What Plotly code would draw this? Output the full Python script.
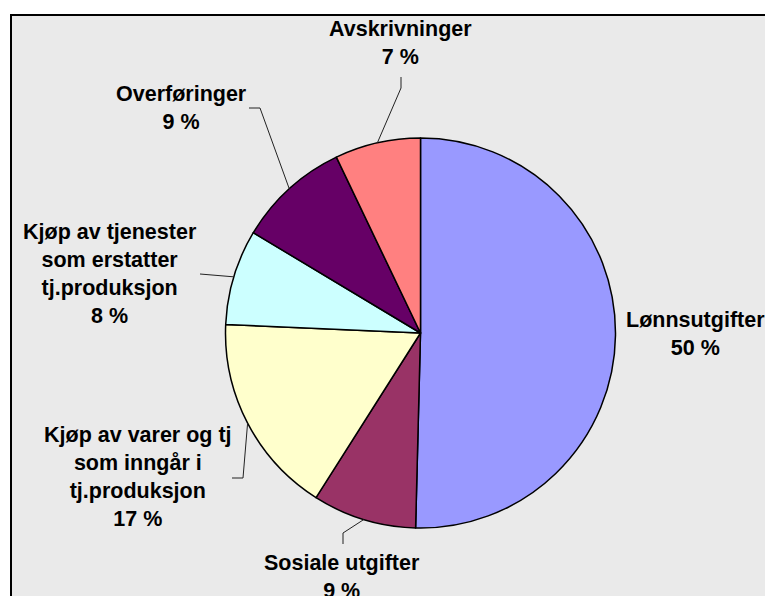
import math
import plotly.graph_objects as go

# ---- data ----
categories = [
    "Lønnsutgifter",
    "Sosiale utgifter",
    "Kjøp av varer og tj<br>som inngår i<br>tj.produksjon",
    "Kjøp av tjenester<br>som erstatter<br>tj.produksjon",
    "Overføringer",
    "Avskrivninger",
]
shares = [50.4, 8.6, 16.7, 7.9, 9.3, 7.1]
colors = ["#9999FF", "#993366", "#FFFFCC", "#CCFFFF", "#660066", "#FF8080"]

# ---- layout (pixels in the 773x596 window) ----
OFF = 8                      # page body margin
W, H = 773 - OFF, 596 - OFF  # figure size
CX, CY, R = 420.5, 333, 195
label_centers = [(695, 334), (342, 577), (138, 477), (110, 274), (181, 108), (401, 43)]
leader_starts = [
    None,
    [(343, 544), (343, 533)],
    [(232, 478), (243, 478)],
    [(200, 274)],
    [(249, 108), (260, 108)],
    [(401, 77), (401, 88)],
]


def px(x):
    return (x - OFF) / W


def py(y):
    return 1 - (y - OFF) / H


fig = go.Figure(
    go.Pie(
        labels=categories,
        values=shares,
        sort=False,
        direction="clockwise",
        rotation=0,
        marker=dict(colors=colors, line=dict(color="black", width=1.5)),
        textinfo="none",
        hoverinfo="label+percent",
        showlegend=False,
        domain=dict(x=[px(CX - R), px(CX + R)], y=[py(CY + R), py(CY - R)]),
    )
)

shapes = [
    dict(
        type="rect", xref="paper", yref="paper",
        x0=px(11), x1=px(800), y0=py(620), y1=py(15),
        fillcolor="#EAEAEA", line=dict(color="black", width=2), layer="below",
    )
]
annotations = []
total = sum(shares)
cum = 0.0
for name, v, (lx, ly), lead in zip(categories, shares, label_centers, leader_starts):
    mid = (cum + v / 2) / total * 2 * math.pi
    cum += v
    pct = round(v / total * 100)
    annotations.append(
        dict(
            x=px(lx), y=py(ly), xref="paper", yref="paper",
            text=f"<b>{name}<br>{pct} %</b>", showarrow=False,
            xanchor="center", yanchor="middle", align="center",
            font=dict(family="Liberation Sans, Arial", size=21.5, color="black"),
        )
    )
    if lead:
        ex = CX + R * math.sin(mid)
        ey = CY - R * math.cos(mid)
        pts = lead + [(ex, ey)]
        path = "M " + " L ".join(f"{px(x)},{py(y)}" for x, y in pts)
        shapes.append(
            dict(type="path", xref="paper", yref="paper", path=path,
                 line=dict(color="#222222", width=1))
        )

fig.update_layout(
    width=W, height=H,
    margin=dict(l=0, r=0, t=0, b=0),
    paper_bgcolor="white",
    plot_bgcolor="white",
    shapes=shapes,
    annotations=annotations,
)

fig.write_html("out.html")
